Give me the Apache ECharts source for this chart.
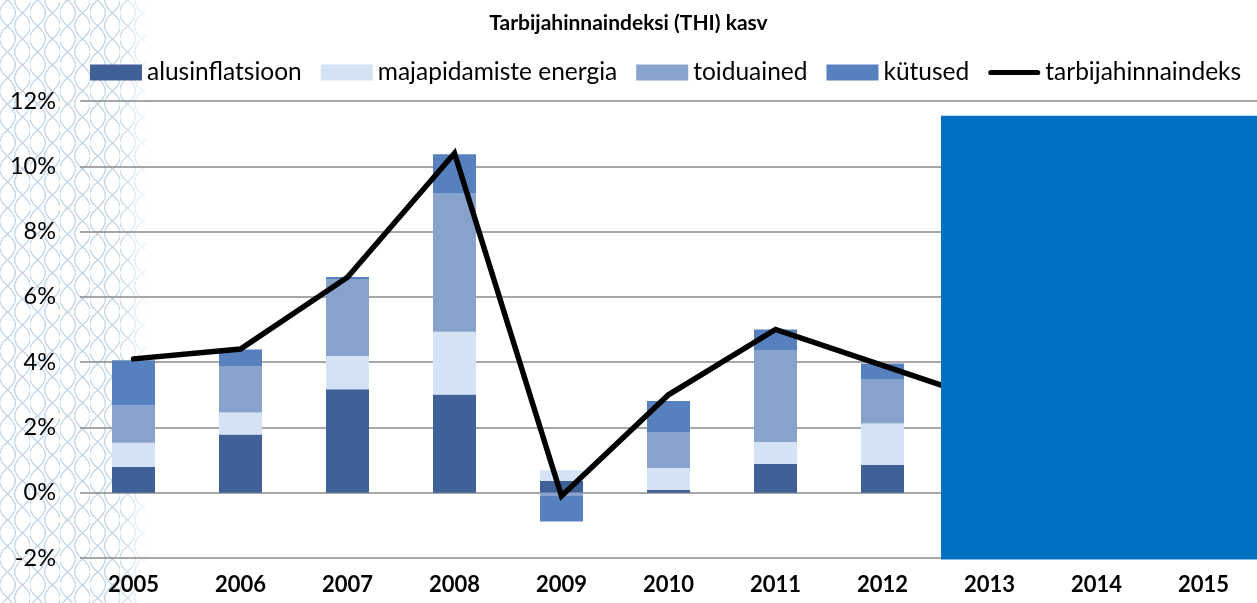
<!DOCTYPE html>
<html>
<head>
<meta charset="utf-8">
<script src="https://cdn.jsdelivr.net/npm/echarts@6/dist/echarts.min.js"></script>
<style>
  html, body { margin: 0; padding: 0; background: #ffffff; }
  #bg { position: absolute; left: 0; top: 0; width: 1257px; height: 603px; }
  #chart { position: absolute; left: 0; top: 0; width: 1257px; height: 603px; }
</style>
</head>
<body>
<div id="bg"></div>
<div id="chart"></div>
<script>
const years = ['2005','2006','2007','2008','2009','2010','2011','2012','2013','2014','2015'];
const alusinflatsioon = [0.79, 1.78, 3.17, 3.01, 0.36, 0.08, 0.88, 0.86, null, null, null];
const majapidamisteEnergia = [0.74, 0.68, 1.02, 1.92, 0.33, 0.68, 0.67, 1.26, null, null, null];
const toiduained = [1.15, 1.42, 2.36, 4.25, -0.10, 1.10, 2.82, 1.36, null, null, null];
const kytused = [1.38, 0.51, 0.06, 1.19, -0.78, 0.95, 0.63, 0.48, null, null, null];
const tarbijahinnaindeks = [4.1, 4.4, 6.6, 10.4, -0.1, 3.0, 5.0, 3.9, 2.8, null, null];
const yTicks = { min: -2, max: 12, interval: 2 };
const forecastStart = '2013';
const forecastTop = 11.55;

// decorative background pattern (left edge)
(function () {
  const svg = "<svg xmlns='http://www.w3.org/2000/svg' width='180' height='603'>" +
    "<defs>" +
    "<linearGradient id='g' x1='0' x2='180' y1='0' y2='0' gradientUnits='userSpaceOnUse'><stop offset='0' stop-color='white'/><stop offset='0.66' stop-color='white'/><stop offset='0.84' stop-color='black'/></linearGradient>" +
    "<mask id='m'><rect width='180' height='603' fill='url(#g)'/></mask>" +
    "<pattern id='p' width='30' height='52' patternUnits='userSpaceOnUse'>" +
    "<g fill='none' stroke='#bfd4e6' stroke-width='1.3'>" +
    "<path d='M7.5,0 C18,8.7 18,17.3 7.5,26 C-3,34.7 -3,43.3 7.5,52'/>" +
    "<path d='M7.5,0 C-3,8.7 -3,17.3 7.5,26 C18,34.7 18,43.3 7.5,52'/>" +
    "<path d='M22.5,-13 C33,-4.3 33,4.3 22.5,13 C12,21.7 12,30.3 22.5,39 C33,47.7 33,56.3 22.5,65'/>" +
    "<path d='M22.5,-13 C12,-4.3 12,4.3 22.5,13 C33,21.7 33,30.3 22.5,39 C12,47.7 12,56.3 22.5,65'/>" +
    "</g></pattern></defs>" +
    "<rect width='180' height='603' fill='url(#p)' mask='url(#m)'/></svg>";
  document.getElementById('bg').style.background =
    "url(\"data:image/svg+xml;charset=utf-8," + encodeURIComponent(svg) + "\") no-repeat left top";
})();

const FONT = 'Lato';
const chart = echarts.init(document.getElementById('chart'), null, { renderer: 'canvas' });

const barBase = {
  type: 'bar',
  stack: 'thi',
  barWidth: 43,
  emphasis: { disabled: true }
};

// thick horizontal line icon for the line legend (tiny corner specks keep the 52x16 box)
const lineIcon = 'path://M0,0L0.01,0L0,0.01Z M2.6,5.4L49.4,5.4A2.6,2.6 0 0 1 49.4,10.6L2.6,10.6A2.6,2.6 0 0 1 2.6,5.4Z M52,16L51.99,16L52,15.99Z';

chart.setOption({
  backgroundColor: 'transparent',
  animation: false,
  title: {
    text: 'Tarbijahinnaindeksi (THI) kasv',
    left: 'center',
    top: 8,
    textStyle: { fontFamily: FONT, fontSize: 21, fontWeight: 'bold', color: '#000' }
  },
  legend: {
    left: 85,
    top: 55,
    width: 1172,
    itemWidth: 52,
    itemHeight: 16,
    itemGap: 19,
    textStyle: { fontFamily: FONT, fontSize: 24.5, color: '#000' },
    data: [
      { name: 'alusinflatsioon', icon: 'rect' },
      { name: 'majapidamiste energia', icon: 'rect' },
      { name: 'toiduained', icon: 'rect' },
      { name: 'kütused', icon: 'rect' },
      { name: 'tarbijahinnaindeks', icon: lineIcon }
    ]
  },
  grid: { left: 80, right: 0, top: 101, bottom: 45, containLabel: false },
  xAxis: {
    type: 'category',
    data: years,
    axisLine: { show: false },
    axisTick: { show: false },
    axisLabel: { fontFamily: FONT, fontSize: 22, fontWeight: 'bold', color: '#000', margin: 16, interval: 0 }
  },
  yAxis: {
    type: 'value',
    min: yTicks.min,
    max: yTicks.max,
    interval: yTicks.interval,
    axisLine: { show: false },
    axisTick: { show: false },
    axisLabel: { fontFamily: FONT, fontSize: 23.5, color: '#000', margin: 24, formatter: '{value}%' },
    splitLine: { lineStyle: { color: '#8a8a8a', width: 1.6 } }
  },
  series: [
    Object.assign({}, barBase, { name: 'alusinflatsioon', data: alusinflatsioon, itemStyle: { color: '#3f6198' } }),
    Object.assign({}, barBase, { name: 'majapidamiste energia', data: majapidamisteEnergia, itemStyle: { color: '#d3e3f5' } }),
    Object.assign({}, barBase, { name: 'toiduained', data: toiduained, itemStyle: { color: '#87a3cc' } }),
    Object.assign({}, barBase, { name: 'kütused', data: kytused, itemStyle: { color: '#5781be' } }),
    {
      name: 'tarbijahinnaindeks',
      type: 'line',
      data: tarbijahinnaindeks,
      symbol: 'none',
      connectNulls: false,
      lineStyle: { color: '#000', width: 5.5, cap: 'round', join: 'miter' },
      itemStyle: { color: '#000' },
      emphasis: { disabled: true },
      z: 5
    }
  ]
});

// forecast cover box, positioned through the axes
const xA = chart.convertToPixel({ xAxisIndex: 0 }, forecastStart);
const xPrev = chart.convertToPixel({ xAxisIndex: 0 }, years[years.indexOf(forecastStart) - 1]);
const band = xA - xPrev;
const boxLeft = xA - band / 2 + 5;
const boxTop = chart.convertToPixel({ yAxisIndex: 0 }, forecastTop);
const boxBottom = chart.convertToPixel({ yAxisIndex: 0 }, yTicks.min) + 1.5;
chart.setOption({
  graphic: [{
    type: 'rect',
    z: 100,
    shape: { x: boxLeft, y: boxTop, width: chart.getWidth() - boxLeft, height: boxBottom - boxTop },
    style: { fill: '#0070c0' }
  }]
});
</script>
</body>
</html>
